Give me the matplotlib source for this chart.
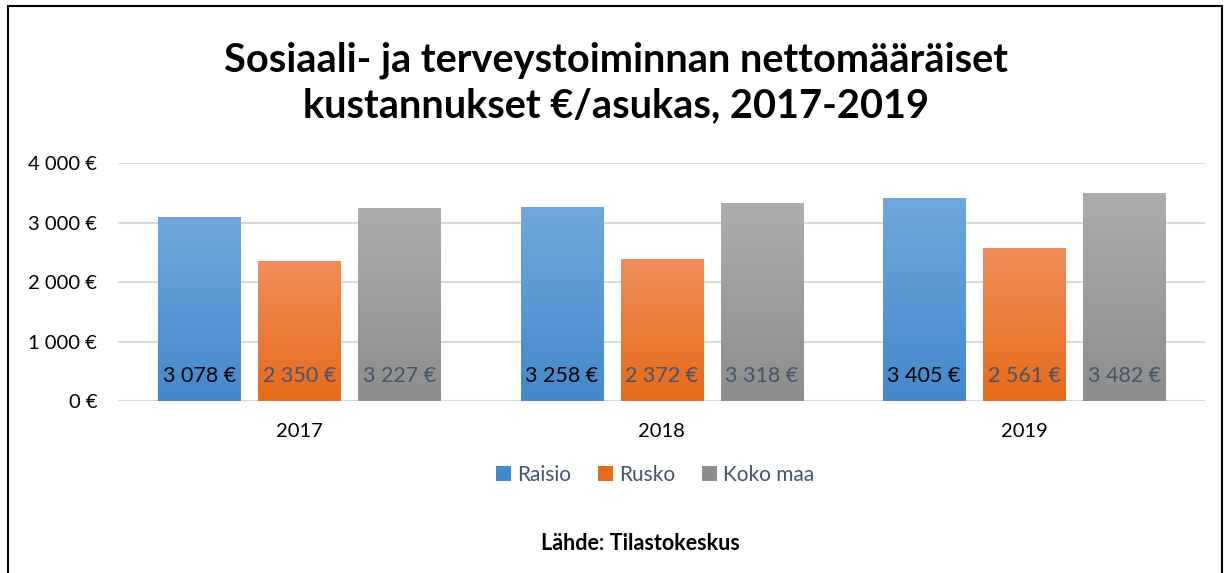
import numpy as np
import matplotlib
matplotlib.use('Agg')
from matplotlib import pyplot as plt
from matplotlib.colors import LinearSegmentedColormap
from matplotlib.patches import Patch, Rectangle

plt.rcParams['font.family'] = ['Lato', 'DejaVu Sans']

years = ['2017', '2018', '2019']
series = ['Raisio', 'Rusko', 'Koko maa']
raisio = [3078, 3258, 3405]
rusko = [2350, 2372, 2561]
koko_maa = [3227, 3318, 3482]
yticks = [0, 1000, 2000, 3000, 4000]
ytick_labels = ['0 €', '1 000 €', '2 000 €', '3 000 €', '4 000 €']

# (top colour, bottom colour) of the gradient fill
grads = [('#70A7DD', '#4389CB'), ('#F18D5B', '#E56B19'), ('#ADADAD', '#8D8D8D')]
label_colors = ['black', '#44546A', '#44546A']


def fmt(v):
    return f'{v:,}'.replace(',', ' ') + ' €'


fig = plt.figure(figsize=(12.32, 5.73), dpi=100)
ax = fig.add_axes([0.0958, 0.300, 0.8825, 0.4155])

x = np.arange(len(years))
width = 0.2265
step = 0.276

for i, vals in enumerate([raisio, rusko, koko_maa]):
    cmap = LinearSegmentedColormap.from_list(series[i], [grads[i][1], grads[i][0]])
    grad = np.linspace(0, 1, 256).reshape(-1, 1)
    for j, v in enumerate(vals):
        xc = x[j] + (i - 1) * step
        ax.imshow(grad, extent=[xc - width / 2, xc + width / 2, 0, v], origin='lower',
                  aspect='auto', cmap=cmap, zorder=2)
        ax.annotate(fmt(v), xy=(xc, 0), xytext=(0, 18), textcoords='offset points',
                    ha='center', va='center', fontsize=15.5, color=label_colors[i], zorder=3)

ax.set_xlim(-0.5, 2.5)
ax.set_ylim(0, 4000)
ax.set_yticks(yticks)
ax.set_yticklabels(ytick_labels, fontsize=14.5)
ax.set_xticks(x)
ax.set_xticklabels(years, fontsize=14.5)
ax.tick_params(axis='y', length=0, pad=15)
ax.tick_params(axis='x', length=0, pad=16)
ax.grid(axis='y', color='#D9D9D9', linewidth=1.5, zorder=0)
ax.set_axisbelow(True)
for s in ax.spines.values():
    s.set_visible(False)

fig.text(0.5, 0.856, 'Sosiaali- ja terveystoiminnan nettomääräiset\nkustannukset €/asukas, 2017-2019',
         ha='center', va='center', fontsize=28.6, fontweight='bold', linespacing=1.28)

handles = [Patch(facecolor=grads[i][1], label=series[i]) for i in range(3)]
fig.legend(handles=handles, loc='center', bbox_to_anchor=(0.532, 0.171), ncol=3, frameon=False,
           fontsize=15, labelcolor='#44546A', handlelength=0.7, handleheight=0.7,
           handletextpad=0.3, columnspacing=1.3)

fig.text(0.52, 0.052, 'Lähde: Tilastokeskus', ha='center', va='center', fontsize=15.5, fontweight='bold')

fig.patches.append(Rectangle((8 / 1232, -0.01), 1214 / 1232, 1.0, transform=fig.transFigure,
                             fill=False, edgecolor='black', linewidth=1.5))

fig.savefig('out.png', dpi=100)
